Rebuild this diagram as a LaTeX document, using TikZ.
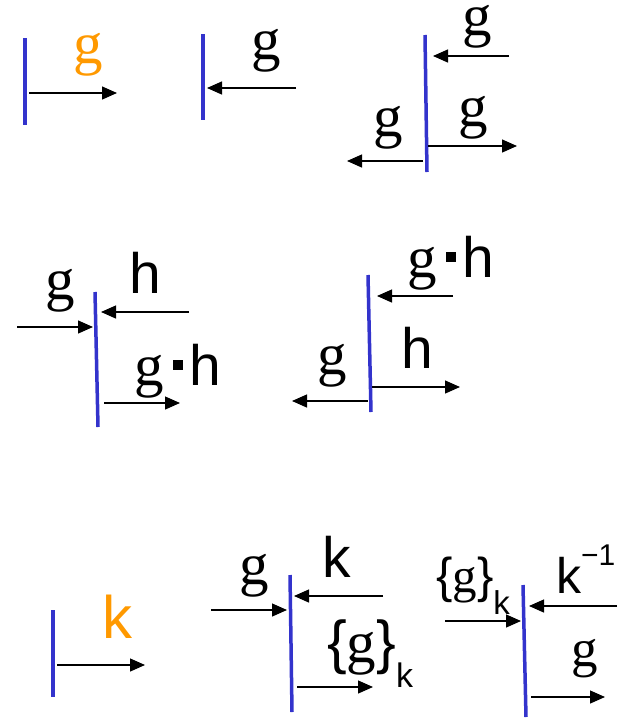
\documentclass[tikz,border=0pt]{standalone}
\usepackage{fontspec}
\setmainfont{Liberation Serif}
\setsansfont{Liberation Sans}
\usetikzlibrary{arrows.meta}
\definecolor{barblue}{RGB}{51,51,204}
\definecolor{gorange}{RGB}{255,153,0}
\tikzset{
  bar/.style={barblue, line width=3.5pt},
  msg/.style={line width=1.3pt, -{Triangle[length=15pt,width=13pt]}},
  lab/.style={inner sep=0pt, anchor=base, font=\fontsize{59}{62}\selectfont},
  hlab/.style={lab, font=\fontsize{57}{60}\sffamily},
}
\newcommand{\gdot}{{\rmfamily g}\hspace{9pt}\rule[15pt]{10pt}{10pt}\hspace{7pt}{\sffamily\fontsize{57}{60}\selectfont h}}
\begin{document}
\begin{tikzpicture}[x=1pt,y=-1pt]
\useasboundingbox (0,0) rectangle (630,718);
% single arrow out
\coordinate (A1) at (25,38); \coordinate (A2) at (25,125);
\coordinate (A3) at (29,93); \coordinate (A4) at (117,93);
\draw[bar] (A1) -- (A2);
\draw[msg] (A3) -- (A4);
\node[lab, text=gorange] (Ag) at (88,63) {g};
% single arrow in
\coordinate (B1) at (203,34); \coordinate (B2) at (203,120);
\coordinate (B3) at (296,88); \coordinate (B4) at (207,88);
\draw[bar] (B1) -- (B2);
\draw[msg] (B3) -- (B4);
\node[lab] (Bg) at (266,59) {g};
% in, then out both ways
\coordinate (C1) at (425,35); \coordinate (C2) at (427,172);
\coordinate (C3) at (509,56); \coordinate (C4) at (433,56);
\coordinate (C5) at (428,146); \coordinate (C6) at (517,146);
\coordinate (C7) at (423,161); \coordinate (C8) at (347,161);
\draw[bar] (C1) -- (C2);
\draw[msg] (C3) -- (C4);
\draw[msg] (C5) -- (C6);
\draw[msg] (C7) -- (C8);
\node[lab] (Cg1) at (477,35) {g};
\node[lab] (Cg2) at (473,126) {g};
\node[lab] (Cg3) at (388,136) {g};
% two in, product out
\coordinate (D1) at (95,292); \coordinate (D2) at (98,427);
\coordinate (D3) at (17,327); \coordinate (D4) at (93,327);
\coordinate (D5) at (189,312); \coordinate (D6) at (101,312);
\coordinate (D7) at (104,403); \coordinate (D8) at (180,403);
\draw[bar] (D1) -- (D2);
\draw[msg] (D3) -- (D4);
\draw[msg] (D5) -- (D6);
\draw[msg] (D7) -- (D8);
\node[lab] (Dg) at (60,299) {g};
\node[hlab] (Dh) at (145,293) {h};
\node[lab] (Dgh) at (178,385) {\gdot};
% product in, split out
\coordinate (E1) at (368,275); \coordinate (E2) at (371,412);
\coordinate (E3) at (453,296); \coordinate (E4) at (377,296);
\coordinate (E5) at (372,387); \coordinate (E6) at (460,387);
\coordinate (E7) at (368,401); \coordinate (E8) at (292,401);
\draw[bar] (E1) -- (E2);
\draw[msg] (E3) -- (E4);
\draw[msg] (E5) -- (E6);
\draw[msg] (E7) -- (E8);
\node[lab] (Egh) at (451,277) {\gdot};
\node[hlab] (Eh) at (417,368) {h};
\node[lab] (Eg) at (332,374) {g};
% key out
\coordinate (F1) at (53,610); \coordinate (F2) at (53,697);
\coordinate (F3) at (57,665); \coordinate (F4) at (145,665);
\draw[bar] (F1) -- (F2);
\draw[msg] (F3) -- (F4);
\node[hlab, text=gorange, font=\fontsize{60}{62}\sffamily] (Fk) at (117,638) {k};
% encrypt
\coordinate (G1) at (290,575); \coordinate (G2) at (292,712);
\coordinate (G3) at (211,610); \coordinate (G4) at (287,610);
\coordinate (G5) at (383,596); \coordinate (G6) at (294,596);
\coordinate (G7) at (297,687); \coordinate (G8) at (373,687);
\draw[bar] (G1) -- (G2);
\draw[msg] (G3) -- (G4);
\draw[msg] (G5) -- (G6);
\draw[msg] (G7) -- (G8);
\node[lab] (Gg) at (254,584) {g};
\node[hlab] (Gk) at (337,577) {k};
\node[lab, anchor=base west] (Ggk) at (327,662)
  {{\sffamily\{}g{\sffamily\}}\raisebox{-25pt}{\fontsize{34}{34}\sffamily k}};
% decrypt
\coordinate (H1) at (523,585); \coordinate (H2) at (526,717);
\coordinate (H3) at (445,621); \coordinate (H4) at (521,621);
\coordinate (H5) at (617,606); \coordinate (H6) at (529,606);
\coordinate (H7) at (531,697); \coordinate (H8) at (605,697);
\draw[bar] (H1) -- (H2);
\draw[msg] (H3) -- (H4);
\draw[msg] (H5) -- (H6);
\draw[msg] (H7) -- (H8);
\node[lab, anchor=base west, font=\fontsize{49}{52}\selectfont] (Hgk) at (436,592)
  {{\sffamily\{}g{\sffamily\}}\raisebox{-22pt}{\fontsize{33}{33}\sffamily k}};
\node[lab, anchor=base west, font=\fontsize{50}{52}\sffamily] (Hk) at (556,593)
  {k\raisebox{28pt}{\fontsize{30}{30}\selectfont −1}};
\node[lab, font=\fontsize{53}{55}\selectfont] (Hg) at (585,666) {g};
\end{tikzpicture}
\end{document}
